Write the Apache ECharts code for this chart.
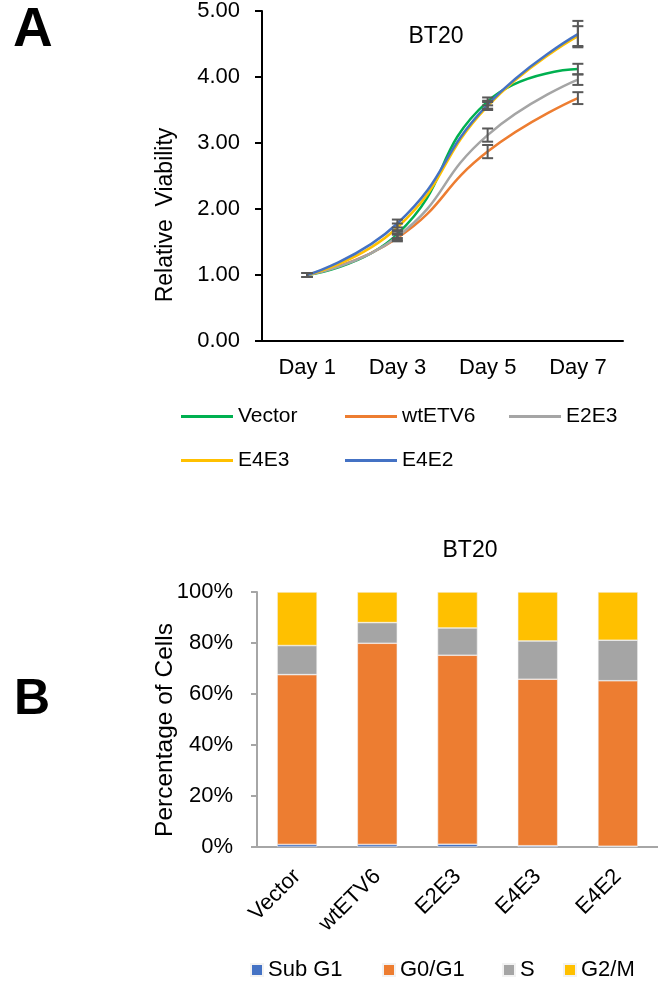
<!DOCTYPE html>
<html>
<head>
<meta charset="utf-8">
<script src="https://cdn.jsdelivr.net/npm/echarts@6/dist/echarts.min.js"></script>
<style>
  html, body { margin: 0; padding: 0; background: #fff; }
  #main { width: 658px; height: 986px; }
</style>
</head>
<body>
<div id="main"></div>
<script>
// panel A - growth curves
const days = ['Day 1', 'Day 3', 'Day 5', 'Day 7']
const lineNames = ['Vector', 'wtETV6', 'E2E3', 'E4E3', 'E4E2']
const lineColors = ['#00B050', '#ED7D31', '#A5A5A5', '#FFC000', '#4472C4']
const vectorVals = [1.00, 1.62, 3.63, 4.12]
const wtETV6Vals = [1.00, 1.56, 2.87, 3.68]
const e2e3Vals = [1.00, 1.58, 3.12, 3.96]
const e4e3Vals = [1.00, 1.72, 3.56, 4.62]
const e4e2Vals = [1.00, 1.78, 3.58, 4.65]
const vectorErr = [0.03, 0.06, 0.06, 0.08]
const wtETV6Err = [0.03, 0.05, 0.10, 0.09]
const e2e3Err = [0.03, 0.05, 0.10, 0.08]
const e4e3Err = [0.03, 0.06, 0.06, 0.15]
const e4e2Err = [0.03, 0.06, 0.06, 0.20]

// panel B - cell cycle
const groups = ['Vector', 'wtETV6', 'E2E3', 'E4E3', 'E4E2']
const subG1 = [1.0, 1.0, 1.1, 0.5, 0.3]
const g0g1 = [66.6, 78.9, 74.1, 65.3, 64.9]
const sPhase = [11.4, 8.1, 10.7, 15.0, 15.9]
const g2m = [21.0, 12.0, 14.1, 19.2, 18.9]
const barNames = ['Sub G1', 'G0/G1', 'S', 'G2/M']
const barColors = ['#4472C4', '#ED7D31', '#A5A5A5', '#FFC000']

const font = 'Liberation Sans, Arial, sans-serif'
const lineVals = [vectorVals, wtETV6Vals, e2e3Vals, e4e3Vals, e4e2Vals]
const lineErrs = [vectorErr, wtETV6Err, e2e3Err, e4e3Err, e4e2Err]
const barVals = [subG1, g0g1, sPhase, g2m]

function errorBars(params, api) {
	const i = api.value(0)
	const v = api.value(1)
	const e = api.value(2)
	const top = api.coord([i, v + e])
	const bot = api.coord([i, v - e])
	const w = 5.5
	const style = { stroke: '#595959', lineWidth: 2 }
	return {
		type: 'group',
		children: [
			{ type: 'line', shape: { x1: top[0], y1: top[1], x2: bot[0], y2: bot[1] }, style },
			{ type: 'line', shape: { x1: top[0] - w, y1: top[1], x2: top[0] + w, y2: top[1] }, style },
			{ type: 'line', shape: { x1: bot[0] - w, y1: bot[1], x2: bot[0] + w, y2: bot[1] }, style }
		]
	}
}

const series = []
lineNames.forEach((name, k) => {
	series.push({
		name: name,
		type: 'line',
		xAxisIndex: 0,
		yAxisIndex: 0,
		smooth: true,
		symbol: 'none',
		color: lineColors[k],
		lineStyle: { color: lineColors[k], width: 2.5 },
		data: lineVals[k],
		z: 2 + k
	})
})
lineNames.forEach((name, k) => {
	series.push({
		name: name + ' error',
		type: 'custom',
		xAxisIndex: 0,
		yAxisIndex: 0,
		renderItem: errorBars,
		data: lineVals[k].map((v, i) => [i, v, lineErrs[k][i]]),
		z: 10,
		silent: true
	})
})
barNames.forEach((name, k) => {
	series.push({
		name: name,
		type: 'bar',
		stack: 'cycle',
		xAxisIndex: 1,
		yAxisIndex: 1,
		barWidth: 40,
		color: barColors[k],
		itemStyle: { color: barColors[k], borderColor: '#f2f2f2', borderWidth: 0.6 },
		data: barVals[k]
	})
})

const lineLegendPos = [[181, 406], [345, 406], [509, 406], [181, 450], [345, 450]]
const barLegendPos = [250, 382, 502, 563]

const legends = lineNames.map((name, k) => ({
	data: [name],
	left: lineLegendPos[k][0],
	top: lineLegendPos[k][1],
	padding: 0,
	icon: 'rect',
	itemWidth: 52,
	itemHeight: 3,
	itemGap: 6,
	selectedMode: false,
	textStyle: { fontSize: 21, fontFamily: font, color: '#000' }
})).concat(barNames.map((name, k) => ({
	data: [name],
	left: barLegendPos[k],
	top: 959,
	padding: 0,
	icon: 'rect',
	itemWidth: 12,
	itemHeight: 12,
	itemGap: 5,
	selectedMode: false,
	textStyle: { fontSize: 22, fontFamily: font, color: '#000' }
})))

const chart = echarts.init(document.getElementById('main'))
chart.setOption({
	backgroundColor: '#fff',
	animation: false,
	title: [
		{ text: 'BT20', left: 431, top: 20, textAlign: 'center', textStyle: { fontSize: 23, fontWeight: 'normal', fontFamily: font, color: '#000' } },
		{ text: 'BT20', left: 465, top: 534, textAlign: 'center', textStyle: { fontSize: 23, fontWeight: 'normal', fontFamily: font, color: '#000' } }
	],
	legend: legends,
	grid: [
		{ left: 262, top: 8, width: 361, height: 333 },
		{ left: 257, top: 592, width: 401, height: 255 }
	],
	xAxis: [
		{
			type: 'category',
			gridIndex: 0,
			data: days,
			axisLine: { lineStyle: { color: '#000', width: 2 } },
			axisTick: { inside: true, length: 7, lineStyle: { color: '#000', width: 2 } },
			axisLabel: { fontSize: 22, fontFamily: font, color: '#000', margin: 16 }
		},
		{
			type: 'category',
			gridIndex: 1,
			data: groups,
			axisLine: { lineStyle: { color: '#A6A6A6', width: 2 } },
			axisTick: { show: false },
			axisLabel: { fontSize: 22, fontFamily: font, color: '#000', rotate: 45, margin: 26, interval: 0 }
		}
	],
	yAxis: [
		{
			type: 'value',
			gridIndex: 0,
			min: 0,
			max: 5,
			interval: 1,
			splitLine: { show: false },
			axisLine: { show: true, lineStyle: { color: '#000', width: 2 } },
			axisTick: { show: true, length: 7, lineStyle: { color: '#000', width: 2 } },
			axisLabel: { fontSize: 22, fontFamily: font, color: '#000', margin: 22, formatter: v => v.toFixed(2) }
		},
		{
			type: 'value',
			gridIndex: 1,
			min: 0,
			max: 100,
			interval: 20,
			splitLine: { show: false },
			axisLine: { show: true, lineStyle: { color: '#A6A6A6', width: 2 } },
			axisTick: { show: true, length: 6, lineStyle: { color: '#A6A6A6', width: 2 } },
			axisLabel: { fontSize: 22, fontFamily: font, color: '#000', margin: 24, formatter: '{value}%' }
		}
	],
	graphic: [
		{ type: 'text', x: 13, y: 31, style: { text: 'A', font: 'bold 55px ' + font, fill: '#000', verticalAlign: 'middle' } },
		{ type: 'text', x: 14, y: 700, style: { text: 'B', font: 'bold 50px ' + font, fill: '#000', verticalAlign: 'middle' } },
		{ type: 'text', x: 166, y: 215, rotation: Math.PI / 2, style: { text: 'Relative  Viability', font: '23px ' + font, fill: '#000', align: 'center', verticalAlign: 'middle' } },
		{ type: 'text', x: 165, y: 730, rotation: Math.PI / 2, style: { text: 'Percentage of Cells', font: '24.5px ' + font, fill: '#000', align: 'center', verticalAlign: 'middle' } }
	],
	series: series
})
</script>
</body>
</html>
